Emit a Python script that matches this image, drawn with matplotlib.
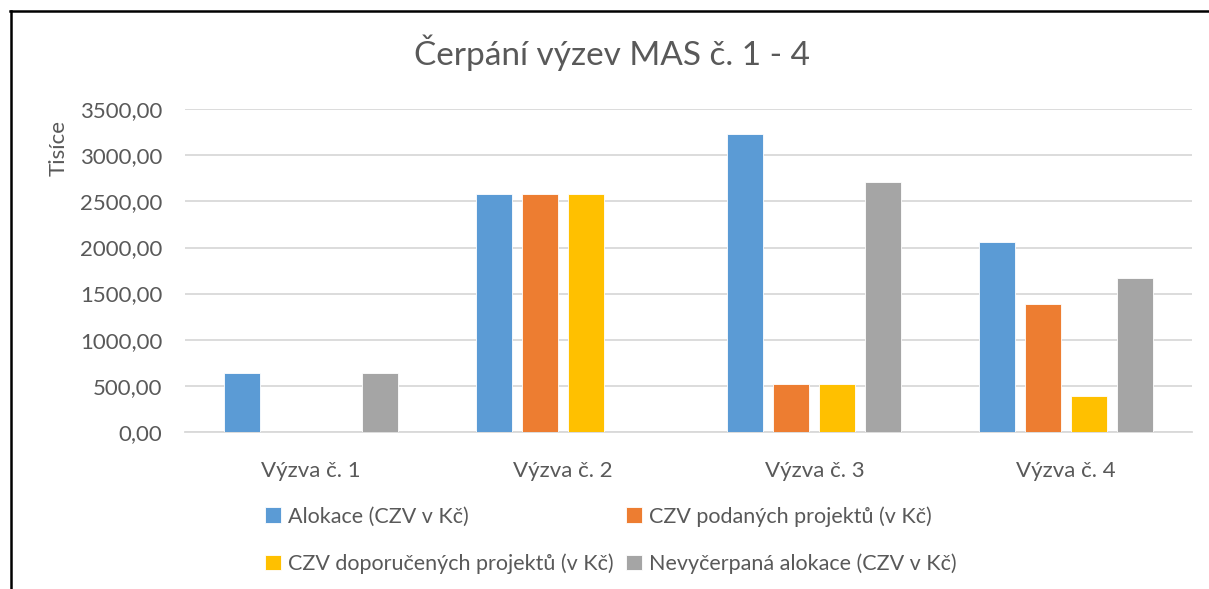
import matplotlib
matplotlib.use("Agg")
import matplotlib.pyplot as plt
import numpy as np
from matplotlib.lines import Line2D

plt.rcParams['font.family'] = ['Lato', 'DejaVu Sans']

categories = ["Výzva č. 1", "Výzva č. 2", "Výzva č. 3", "Výzva č. 4"]
series_names = ["Alokace (CZV v Kč)", "CZV podaných projektů (v Kč)",
                "CZV doporučených projektů (v Kč)", "Nevyčerpaná alokace (CZV v Kč)"]
alokace = [641, 2584, 3228, 2062]
podanych = [0, 2584, 515, 1388]
doporucenych = [0, 2584, 515, 388]
nevycerpana = [641, 0, 2711, 1671]
series_values = [alokace, podanych, doporucenych, nevycerpana]
colors = ["#5B9BD5", "#ED7D31", "#FFC000", "#A5A5A5"]
yticks = [0, 500, 1000, 1500, 2000, 2500, 3000, 3500]
ytick_labels = ["0,00", "500,00", "1000,00", "1500,00", "2000,00", "2500,00", "3000,00", "3500,00"]

W, H = 1209, 589
fig = plt.figure(figsize=(W / 100, H / 100), dpi=100)
ax = fig.add_axes([185 / W, 1 - 431.7 / H, (1192 - 185) / W, (431.7 - 109.4) / H])

text_color = "#595959"
grid_color = "#D9D9D9"

x = np.arange(len(categories))
pitch = 0.183
width = 0.143
handles = []
for j, (vals, c) in enumerate(zip(series_values, colors)):
    b = ax.bar(x + (j - 1.5) * pitch, vals, width, color=c, edgecolor="white",
               linewidth=0.6, label=series_names[j], zorder=3)
    handles.append(b)

ax.set_xlim(-0.5, len(categories) - 0.5)
ax.set_ylim(0, 3500)
ax.set_yticks(yticks)
ax.set_yticklabels(ytick_labels)
ax.set_xticks(x)
ax.set_xticklabels(categories)
ax.tick_params(axis='both', length=0, labelsize=16, labelcolor=text_color)
ax.tick_params(axis='y', pad=16.5)
ax.tick_params(axis='x', pad=21)
ax.grid(axis='y', color=grid_color, linewidth=1.3, zorder=0)
for s in ["top", "right", "left"]:
    ax.spines[s].set_visible(False)
ax.spines["bottom"].set_color(grid_color)
ax.spines["bottom"].set_linewidth(1.3)

fig.text(612.5 / W, 1 - 53 / H, "Čerpání výzev MAS č. 1 - 4", ha="center", va="center",
         fontsize=24, color=text_color)
fig.text(59 / W, 1 - 148 / H, "Tisíce", ha="center", va="center", rotation=90,
         fontsize=16, color=text_color)

order = [0, 2, 1, 3]
leg = fig.legend([handles[i] for i in order], [series_names[i] for i in order],
                 ncol=2, loc="upper left", bbox_to_anchor=(265 / W, 1 - 506 / H),
                 frameon=False, fontsize=15.5, handlelength=0.75, handleheight=0.75,
                 handletextpad=0.3, columnspacing=0.6, labelspacing=1.25, borderpad=0,
                 borderaxespad=0)
for t in leg.get_texts():
    t.set_color(text_color)

# chart border (left and top visible)
fig.add_artist(Line2D([10.5 / W, 10.5 / W], [0, 1 - 10.5 / H], color="black", linewidth=1.8,
                      transform=fig.transFigure))
fig.add_artist(Line2D([10 / W, 1], [1 - 10.5 / H, 1 - 10.5 / H], color="black", linewidth=1.8,
                      transform=fig.transFigure))

fig.savefig("out.png", dpi=100, facecolor="white")
